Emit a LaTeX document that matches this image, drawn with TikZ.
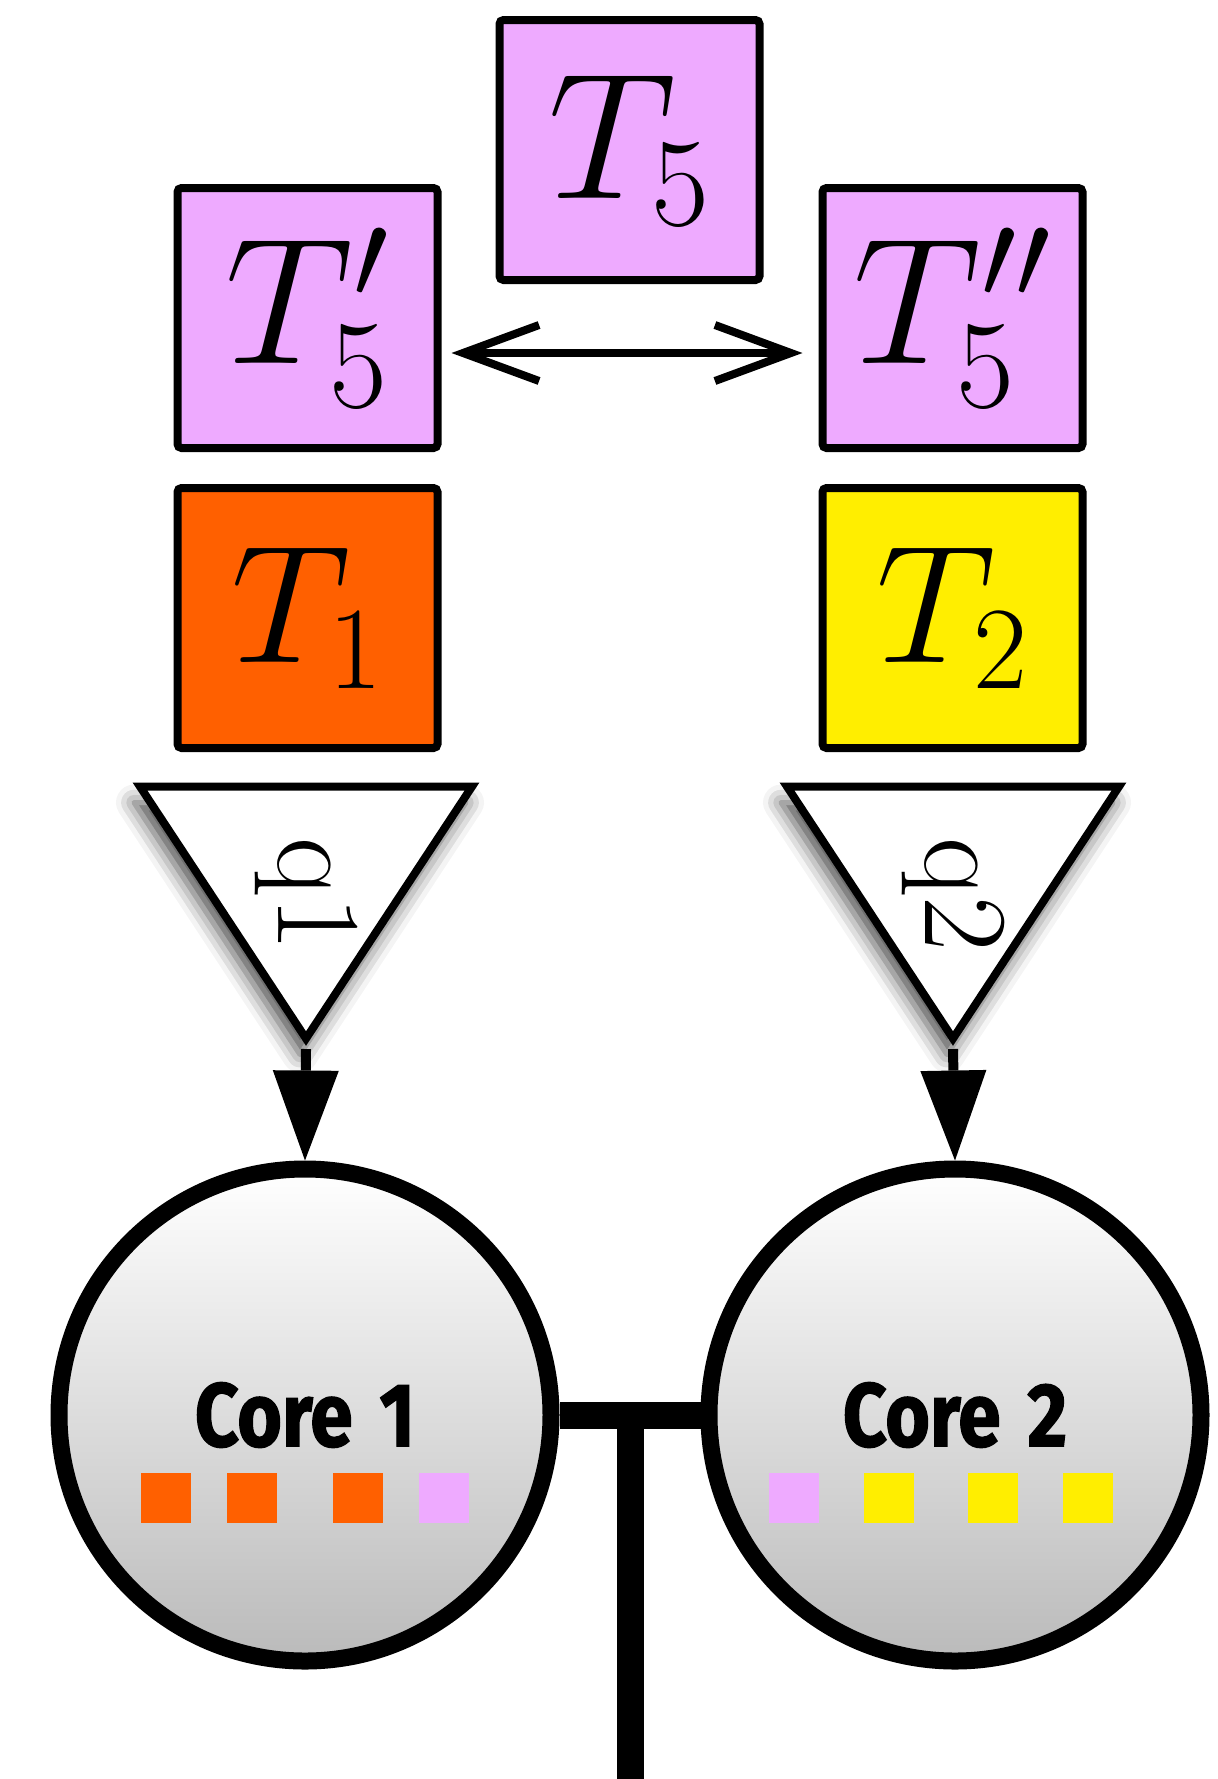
\RequirePackage{fix-cm}
\documentclass[tikz,border=0pt]{standalone}
\usepackage{fontspec}
\newfontfamily\corefont{Fira Sans}[FakeStretch=0.85, BoldFeatures={FakeBold=1.5}]
\usepackage{tikz}
\usetikzlibrary{arrows.meta,calc,positioning,shapes.geometric,shadows.blur}

\definecolor{taskpink}{HTML}{EEAAFF}
\definecolor{taskorange}{HTML}{FF6000}
\definecolor{taskyellow}{HTML}{FFEE00}

\begin{document}
\begin{tikzpicture}[
  x=0.5pt, y=-0.5pt,
  node distance=16pt,
  box/.style={draw, line width=4pt, rounded corners=2pt, minimum size=130pt, inner sep=0pt, font=\fontsize{84}{90}\selectfont},
  big/.style={font=\fontsize{90}{96}\selectfont},
  queue/.style={isosceles triangle, isosceles triangle stretches, rotate=-90, draw, fill=white, line width=4pt,
    minimum height=126pt, minimum width=166pt, inner sep=0pt,
    blur shadow={shadow xshift=-3pt, shadow yshift=-8pt, shadow blur radius=9pt, shadow opacity=70}},
  qname/.style={rotate=-90, inner sep=0pt, font=\fontsize{60}{64}\selectfont},
  core/.style={circle, draw, line width=8.5pt, minimum size=246pt, top color=white, bottom color=black!27,
    inner sep=0pt, font=\corefont\bfseries\fontsize{45}{50}\selectfont},
  slot/.style={minimum size=25pt, inner sep=0pt},
  arr/.style={-{Triangle[length=45pt,width=33pt,line width=0pt]}, line width=5pt},
  swap/.style={{Straight Barb[length=38pt,width=28pt]}-{Straight Barb[length=38pt,width=28pt]}, line width=4pt},
  bus/.style={line width=13.5pt}
]
\useasboundingbox (0,0) rectangle (1217,1779);

% tasks
\node[box, big, fill=taskpink] (t5) at (629.5,150) {$T_5$};
\node[box, big, fill=taskpink] (t5a) at (307.5,318) {$T'_5$};
\node[box, big, fill=taskpink] (t5b) at (952.5,318) {$T''_5$};
\node[box, fill=taskorange, below=of t5a] (t1) {$T_1$};
\node[box, fill=taskyellow, below=of t5b] (t2) {$T_2$};
\draw[swap, shorten <=5pt, shorten >=8pt] ([yshift=-17.5pt]t5a.east) -- ([yshift=-17.5pt]t5b.west);

% queues
\node[queue, anchor=apex] (q1) at (306,1049) {};
\node[queue, anchor=apex] (q2) at (953,1049) {};
\node[qname] (q1name) at ($(q1.apex)!0.58!(q1.lower side)$) {q1};
\node[qname] (q2name) at ($(q2.apex)!0.58!(q2.lower side)$) {q2};

% cores
\node[core] (core1) at (305,1415) {Core\hspace{0.3em}1};
\node[core] (core2) at (955,1415) {Core\hspace{0.3em}2};
\foreach \x/\c [count=\i] in {166/taskorange, 252/taskorange, 358/taskorange, 443.5/taskpink}
  \node[slot, fill=\c] (sa\i) at (\x,1498) {};
\foreach \x/\c [count=\i] in {794/taskpink, 889/taskyellow, 993/taskyellow, 1088/taskyellow}
  \node[slot, fill=\c] (sb\i) at (\x,1498) {};

\draw[arr] (q1.apex) -- (core1.north);
\draw[arr] (q2.apex) -- (core2.north);

% bus
\coordinate (mid) at ($(core1.east)!0.5!(core2.west)$);
\coordinate (bottom) at (630,1779);
\draw[bus] (core1.east) -- (core2.west);
\draw[bus] (mid) -- (mid |- bottom);
\end{tikzpicture}
\end{document}
